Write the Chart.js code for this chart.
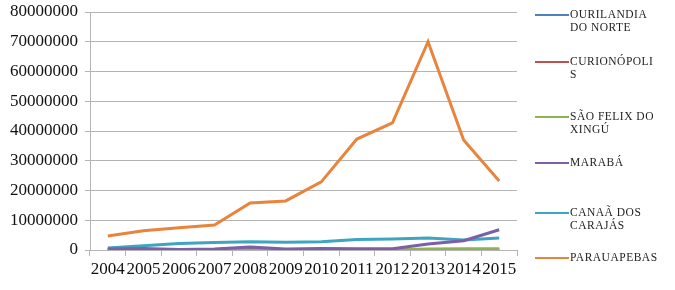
<!DOCTYPE html>
<html>
<head>
<meta charset="utf-8">
<script src="https://cdn.jsdelivr.net/npm/chart.js@4"></script>
<style>
  body { margin: 0; background: #fff; }
  #wrap { position: relative; width: 675px; height: 290px; }
  #legend { position: absolute; left: 0; top: 0; }
  .item { position: absolute; left: 535px; font-family: "Liberation Serif", serif; font-size: 11.5px; line-height: 13px; letter-spacing: 0.5px; color: #222; }
  .item .ln { position: absolute; left: 0; top: 6px; width: 34px; height: 2px; }
  .item .tx { position: absolute; left: 35px; top: 0; width: 89.5px; overflow-wrap: anywhere; }
</style>
</head>
<body>
<div id="wrap">
  <canvas id="chart" width="675" height="290"></canvas>
  <div id="legend"></div>
</div>
<script>
// anos e valores
const years = ['2004','2005','2006','2007','2008','2009','2010','2011','2012','2013','2014','2015'];
const cityNames = ['OURILANDIA DO NORTE', 'CURIONÓPOLIS', 'SÃO FELIX DO XINGÚ', 'MARABÁ', 'CANAÃ DOS CARAJÁS', 'PARAUAPEBAS'];
const colors = ['#4F81BD', '#C0504D', '#8FB352', '#7D5FA5', '#3DA5C0', '#E8843C'];

const ourilandia = [100000, 100000, 100000, 100000, 100000, 100000, 100000, 100000, 100000, 150000, 200000, 200000];
const curionopolis = [50000, 50000, 50000, 50000, 50000, 50000, 50000, 50000, 50000, 100000, 100000, 100000];
const saoFelix = [50000, 50000, 50000, 50000, 50000, 50000, 50000, 50000, 100000, 300000, 400000, 400000];
const maraba = [300000, 500000, 200000, 300000, 1000000, 300000, 500000, 400000, 400000, 2000000, 3100000, 6800000];
const canaa = [700000, 1400000, 2200000, 2500000, 2800000, 2600000, 2800000, 3500000, 3700000, 4000000, 3400000, 4000000];
const parauapebas = [4700000, 6500000, 7500000, 8400000, 15800000, 16500000, 22900000, 37300000, 42700000, 70000000, 37000000, 23200000];

const seriesData = [ourilandia, curionopolis, saoFelix, maraba, canaa, parauapebas];
const drawOrder = [6, 5, 4, 2, 3, 1]; // laranja por cima

const datasets = cityNames.map((name, i) => ({
  label: name,
  data: seriesData[i],
  borderColor: colors[i],
  backgroundColor: colors[i],
  borderWidth: 3,
  pointRadius: 0,
  tension: 0,
  order: drawOrder[i]
}));

const tickFont = { family: '"Liberation Serif", serif', size: 17 };
const gridColor = '#B4B4B4';

const chart = new Chart(document.getElementById('chart'), {
  type: 'line',
  data: { labels: years, datasets },
  options: {
    responsive: false,
    animation: false,
    layout: { padding: { top: 12, right: 158, left: 0, bottom: 0 } },
    plugins: { legend: { display: false }, tooltip: { enabled: false } },
    scales: {
      x: {
        offset: true,
        grid: { offset: true, drawOnChartArea: false, drawTicks: true, tickLength: 6, color: gridColor },
        border: { color: gridColor },
        ticks: { font: tickFont, color: '#111', maxRotation: 0, autoSkip: false, padding: 3 },
        afterFit: s => { s.height = 40; s.paddingLeft = 0; s.paddingRight = 0; }
      },
      y: {
        min: 0,
        max: 80000000,
        grid: { color: gridColor, tickLength: 5 },
        border: { color: gridColor },
        ticks: { stepSize: 10000000, font: tickFont, color: '#111', padding: 7, callback: v => String(v) },
        afterFit: s => { s.width = 90; s.paddingTop = 0; s.paddingBottom = 0; }
      }
    }
  }
});

// legenda a direita
const legendTops = [8, 55, 110, 156, 206, 251];
const legendDiv = document.getElementById('legend');
chart.data.datasets.forEach((ds, i) => {
  const item = document.createElement('div');
  item.className = 'item';
  item.style.top = legendTops[i] + 'px';
  item.innerHTML = '<div class="ln" style="background:' + ds.borderColor + '"></div><div class="tx">' + ds.label + '</div>';
  legendDiv.appendChild(item);
});
</script>
</body>
</html>
